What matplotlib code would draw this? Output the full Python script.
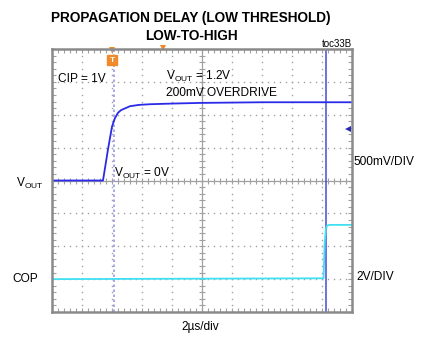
import numpy as np
import matplotlib
matplotlib.use("Agg")
import matplotlib.pyplot as plt

plt.rcParams['font.family'] = ['Liberation Sans', 'DejaVu Sans']
plt.rcParams['mathtext.fontset'] = 'custom'
plt.rcParams['mathtext.rm'] = 'Liberation Sans'

# scope settings
t_per_div = 2.0      # us/div
vout_per_div = 0.5   # V/div
cop_per_div = 2.0    # V/div
cop_offset = -3.0    # divisions

# VOUT trace (us, V)
vout_t = [0.0, 3.40, 3.73, 4.00, 4.20, 4.40, 4.60, 4.90, 5.20, 5.80, 6.53, 8.0, 9.87, 14.0, 20.0]
vout_v = [0.0, 0.00, 0.47, 0.82, 0.95, 1.03, 1.07, 1.10, 1.13, 1.15, 1.16, 1.17, 1.18, 1.19, 1.19]

# COP trace (us, V)
cop_t = [0.0, 18.10, 18.18, 18.26, 18.33, 18.50, 20.0]
cop_v = [0.0, 0.05, 2.20, 3.05, 3.25, 3.30, 3.30]

cursor_a = 4.15   # dotted cursor, us
cursor_b = 18.27  # solid cursor, us
trig_t = 4.0
hpos_t = 7.4
level_div = 1.58

fs = 8.6

fig = plt.figure(figsize=(4.28, 3.39), dpi=100)
ax = fig.add_axes([52/428, 1 - 312/339, 300/428, 263/339])
ax.set_xlim(0, 20)
ax.set_ylim(-4, 4)

grid_c = '#a0a0a0'
# dotted graticule
for gx in np.arange(2, 20, 2):
    if gx == 10:
        continue
    ys = np.arange(-4, 4.01, 0.2)
    ax.plot(np.full_like(ys, gx), ys, ls='none', marker='s', ms=1.0, color=grid_c, mew=0)
for gy in range(-3, 4):
    if gy == 0:
        continue
    xs = np.arange(0, 20.01, 0.4)
    ax.plot(xs, np.full_like(xs, gy), ls='none', marker='s', ms=1.0, color=grid_c, mew=0)

# center crosshair with minor ticks
ax.axhline(0, color=grid_c, lw=0.9)
ax.axvline(10, color=grid_c, lw=0.9)
xs = np.arange(0, 20.01, 0.4)
ax.plot(xs, np.zeros_like(xs), ls='none', marker='|', ms=4, mew=0.8, color=grid_c)
ys = np.arange(-4, 4.01, 0.2)
ax.plot(np.full_like(ys, 10), ys, ls='none', marker='_', ms=4, mew=0.8, color=grid_c)

# frame
for sp in ax.spines.values():
    sp.set_color('#8a8a8a')
    sp.set_linewidth(1.8)
ax.set_xticks(np.arange(0, 20.01, 0.4))
ax.set_yticks(np.arange(-4, 4.01, 0.2))
ax.tick_params(direction='in', length=3, width=0.8, color=grid_c,
               top=True, right=True, labelleft=False, labelbottom=False)

# cursors
ax.axvline(cursor_a, color='#9a9ae8', lw=1.2, ls=(0, (1.5, 1.5)))
ax.axvline(cursor_b, color='#4a4ad8', lw=1.1)

# traces
ax.plot(vout_t, np.array(vout_v) / vout_per_div, color='#2a2ae8', lw=1.3)
ax.plot(cop_t, np.array(cop_v) / cop_per_div + cop_offset, color='#3fe0f2', lw=1.3)

# markers
ax.plot([trig_t], [3.68], marker='s', ms=7, color='#f08a2a', clip_on=False)
ax.plot([trig_t], [3.98], marker='v', ms=5, color='#f08a2a', clip_on=False, mew=0)
ax.text(trig_t, 3.66, 'T', color='white', fontsize=6, fontweight='bold',
        ha='center', va='center')
ax.plot([hpos_t], [4.02], marker='v', ms=4, color='#f08a2a', clip_on=False, mew=0)
ax.plot([19.7], [level_div], marker='<', ms=4, color='#2a2ab0', mew=0)

# labels inside
ax.text(0.4, 3.1, 'CIP = 1V', fontsize=fs, va='center')
ax.text(7.6, 3.15, r'V$_{\mathregular{OUT}}$ = 1.2V', fontsize=fs, va='center')
ax.text(7.6, 2.66, '200mV OVERDRIVE', fontsize=fs, va='center')
ax.text(4.1, 0.22, r'V$_{\mathregular{OUT}}$ = 0V', fontsize=fs, va='center')

# labels outside
fig.text(191/428, 1 - 18/339, 'PROPAGATION DELAY (LOW THRESHOLD)', fontsize=9.8,
         fontweight='bold', ha='center', va='center')
fig.text(191/428, 1 - 36/339, 'LOW-TO-HIGH', fontsize=9.8,
         fontweight='bold', ha='center', va='center')
fig.text(352/428, 1 - 44/339, 'toc33B', fontsize=7, ha='right', va='center')
fig.text(16/428, 1 - 183/339, r'V$_{\mathregular{OUT}}$', fontsize=fs, va='center')
fig.text(354/428, 1 - 162/339, '500mV/DIV', fontsize=fs, va='center')
fig.text(12/428, 1 - 279/339, 'COP', fontsize=fs, va='center')
fig.text(356/428, 1 - 277/339, '2V/DIV', fontsize=fs, va='center')
fig.text(200/428, 1 - 327/339, '2\u00b5s/div', fontsize=fs, ha='center', va='center')

fig.savefig('out.png', dpi=100)
